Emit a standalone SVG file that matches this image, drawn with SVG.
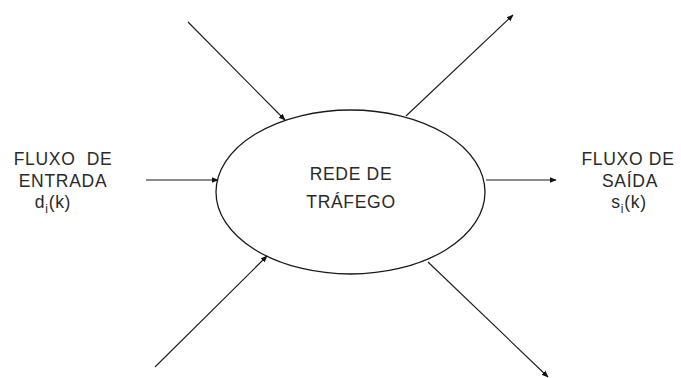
<svg xmlns="http://www.w3.org/2000/svg" width="681" height="378" viewBox="0 0 681 378">
<defs>
<style>
.t{font-family:"Liberation Sans",Arial,sans-serif;font-size:17.5px;fill:#2a2a2a;text-anchor:middle;letter-spacing:0.7px}
.s{font-size:12px}
.c{stroke:#1a1a1a;stroke-width:1.1;fill:none;marker-end:url(#ah)}
</style>
<marker id="ah" viewBox="0 0 10 10" refX="9" refY="5" markerWidth="7" markerHeight="7" markerUnits="userSpaceOnUse" orient="auto">
<path d="M0,1 L10,5 L0,9 z" fill="#111"/>
</marker>
</defs>
<rect width="681" height="378" fill="#fff"/>
<g id="connectors">
<line class="c" x1="188" y1="22" x2="285" y2="120"/>
<line class="c" x1="406" y1="116" x2="513" y2="15"/>
<line class="c" x1="146" y1="180" x2="218" y2="180"/>
<line class="c" x1="486" y1="180" x2="556" y2="180"/>
<line class="c" x1="155" y1="367" x2="267" y2="256"/>
<line class="c" x1="428" y1="262" x2="548" y2="377"/>
</g>
<g id="rede">
<ellipse cx="350.5" cy="192" rx="134.5" ry="82" fill="none" stroke="#1a1a1a" stroke-width="1.3"/>
<text class="t" x="351" y="180">REDE DE</text>
<text class="t" x="351" y="208">TRÁFEGO</text>
</g>
<g id="entrada">
<text class="t" x="63" y="165" xml:space="preserve">FLUXO  DE</text>
<text class="t" x="63" y="187">ENTRADA</text>
<text class="t" x="53" y="208">d<tspan class="s" dy="5">i</tspan><tspan dy="-5">(k)</tspan></text>
</g>
<g id="saida">
<text class="t" x="628" y="165">FLUXO DE</text>
<text class="t" x="630" y="187">SAÍDA</text>
<text class="t" x="629" y="208">s<tspan class="s" dy="5">i</tspan><tspan dy="-5">(k)</tspan></text>
</g>
</svg>
